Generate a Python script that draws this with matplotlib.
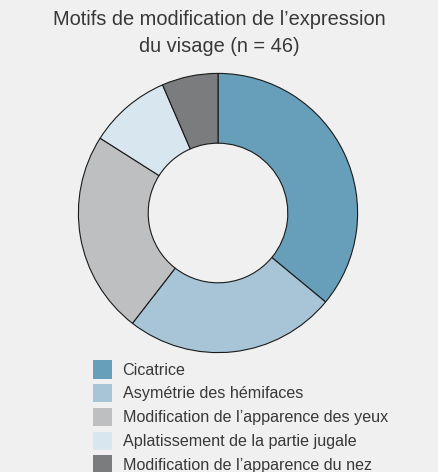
import matplotlib.pyplot as plt

# Données (parts en %)
labels = [
    "Cicatrice",
    "Asymétrie des hémifaces",
    "Modification de l\u2019apparence des yeux",
    "Aplatissement de la partie jugale",
    "Modification de l\u2019apparence du nez",
]
values = [36, 24.5, 23.5, 9.5, 6.5]
colors = ["#679fba", "#a7c5d6", "#bebfc1", "#d8e6ef", "#7b7c7e"]
title = "Motifs de modification de l\u2019expression\ndu visage (n = 46)"

bg = "#f0f0f0"
plt.rcParams['font.family'] = ['Liberation Sans', 'DejaVu Sans']

fig = plt.figure(figsize=(4.38, 4.72), dpi=100, facecolor=bg)
ax = fig.add_axes([77 / 438, 118 / 472, 282 / 438, 282 / 472])
ax.set_facecolor(bg)

wedges, _ = ax.pie(
    values,
    colors=colors,
    startangle=90,
    counterclock=False,
    radius=1,
    wedgeprops=dict(width=0.5, edgecolor="#1a1a1a", linewidth=0.8),
)
ax.set_xlim(-1.01, 1.01)
ax.set_ylim(-1.01, 1.01)
ax.set_aspect("equal")

fig.text(0.5, 1 - 33 / 472, title, ha="center", va="center",
         fontsize=14.4, color="#383838", linespacing=1.52)

leg = fig.legend(
    wedges, labels,
    loc="upper left",
    bbox_to_anchor=(85 / 438, 1 - 352 / 472),
    frameon=False,
    fontsize=11.6,
    handlelength=1.15,
    handleheight=1.39,
    handletextpad=0.68,
    labelspacing=0.33,
    borderpad=0,
    labelcolor="#383838",
)
for h in leg.legend_handles:
    h.set_edgecolor("none")

fig.savefig("out.png", dpi=100, facecolor=bg)
